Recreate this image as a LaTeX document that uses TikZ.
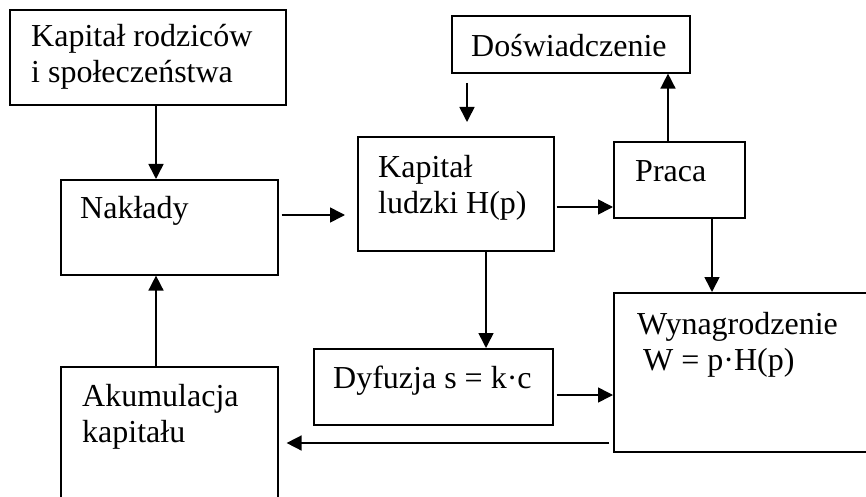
\documentclass[tikz,border=0pt]{standalone}
\usepackage{fontspec}
\setmainfont{Liberation Serif}
\usetikzlibrary{arrows.meta,calc}
\tikzset{
  blok/.style={draw, line width=1.6pt, inner sep=0pt, anchor=north west},
  opis/.style={anchor=base west, inner sep=0pt, align=left},
  strz/.style={line width=1.6pt, -{Triangle[length=15pt,width=15pt]}}
}

\begin{document}
\begin{tikzpicture}[x=1pt,y=-1pt,font=\fontsize{32}{36}\selectfont]
\useasboundingbox (0,0) rectangle (866,497);
\clip (0,0) rectangle (866,497);
% bloki
\node[blok,minimum width=276,minimum height=95] (kapr) at (9,9) {};
\node[blok,minimum width=238,minimum height=57] (dosw) at (451,15) {};
\node[blok,minimum width=217,minimum height=95] (nakl) at (60,179) {};
\node[blok,minimum width=196,minimum height=114] (kapl) at (357,136) {};
\node[blok,minimum width=131,minimum height=76] (praca) at (613,141) {};
\node[blok,minimum width=239,minimum height=76] (dyf) at (313,348) {};
\node[blok,minimum width=280,minimum height=159] (wyn) at (613,292) {};
\node[blok,minimum width=217,minimum height=160] (akum) at (60,366) {};

% opisy (baza = ostatnia linia)
\node[opis] (kapr-t) at (31,83) {Kapitał rodziców\\i społeczeństwa};
\node[opis] (dosw-t) at (471,57) {Doświadczenie};
\node[opis] (nakl-t) at (80,218) {Nakłady};
\node[opis] (kapl-t) at (378,213) {Kapitał\\ludzki H(p)};
\node[opis] (praca-t) at (635,182) {Praca};
\node[opis] (dyf-t) at (333,388) {Dyfuzja s = k·c};
\node[opis] (wyn-t) at (637,370) {Wynagrodzenie\\\hspace{6pt}W = p·H(p)};
\node[opis] (akum-t) at (82,442) {Akumulacja\\kapitału};

% strzalki
\draw[strz] (kapr.south -| 156,0) -- (nakl.north -| 156,0);
\draw[strz] (akum.north -| 156,0) -- (nakl.south -| 156,0);
\draw[strz, shorten <=3pt, shorten >=12pt] (nakl.east |- 0,215) -- (kapl.west |- 0,215);
\draw[strz, shorten <=2pt] (kapl.east |- 0,207) -- (praca.west |- 0,207);
\draw[strz] (kapl.south -| 486,0) -- (dyf.north -| 486,0);
\draw[strz, shorten <=3pt] (dyf.east |- 0,395) -- (wyn.west |- 0,395);
\draw[strz] (praca.south -| 712,0) -- (wyn.north -| 712,0);
\draw[strz] (praca.north -| 668,0) -- (dosw.south -| 668,0);
\draw[strz, shorten <=4pt, shorten >=8pt] (wyn.west |- 0,443) -- (akum.east |- 0,443);
\coordinate (sw-a) at (467,83);
\coordinate (sw-b) at (467,122);
\draw[strz] (sw-a) -- (sw-b);
\end{tikzpicture}
\end{document}
